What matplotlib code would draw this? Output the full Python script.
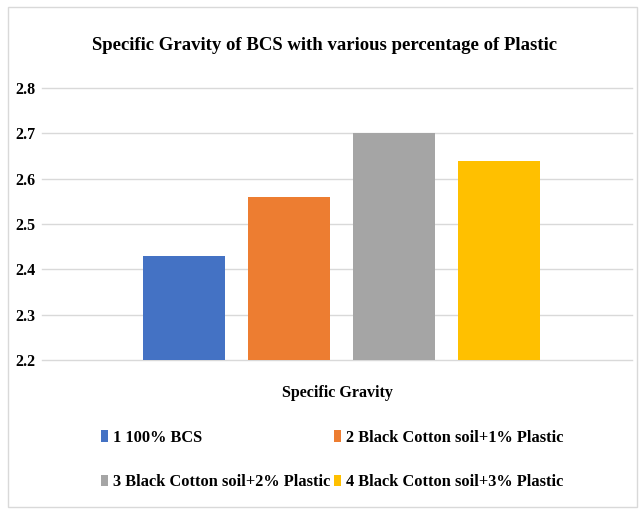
import matplotlib
matplotlib.use("Agg")
import matplotlib.pyplot as plt
from matplotlib.patches import Rectangle

categories = ["Specific Gravity"]
series_names = [
    "1 100% BCS",
    "2 Black Cotton soil+1% Plastic",
    "3 Black Cotton soil+2% Plastic",
    "4 Black Cotton soil+3% Plastic",
]
values = [2.43, 2.56, 2.70, 2.64]
colors = ["#4472C4", "#ED7D31", "#A5A5A5", "#FFC000"]
yticks = [2.2, 2.3, 2.4, 2.5, 2.6, 2.7, 2.8]

plt.rcParams["font.family"] = ["Liberation Serif", "DejaVu Serif"]
plt.rcParams["font.weight"] = "bold"

W, H = 642, 512
fig = plt.figure(figsize=(W / 100, H / 100), dpi=100)
fig.patch.set_facecolor("white")

# chart frame
fig.add_artist(Rectangle((8 / W, 1 - 507 / H), 629 / W, 500 / H,
                         transform=fig.transFigure, fill=False,
                         edgecolor="#D9D9D9", linewidth=1.0))

ax = fig.add_axes([42 / W, 1 - 360 / H, 590 / W, 272 / H])

bar_w = 0.139
step = 0.178
handles = []
for i, (name, v, c) in enumerate(zip(series_names, values, colors)):
    b = ax.bar(0 + (i - 1.5) * step, v - 2.2, bottom=2.2, width=bar_w,
               color=c, label=name, zorder=3)
    handles.append(b)

ax.set_xlim(-0.5 - 0.008, 0.5 - 0.008)
ax.set_ylim(2.2, 2.8)
ax.set_yticks(yticks)
ax.set_yticklabels([f"{t:.1f}" for t in yticks], fontsize=11.5, fontweight="bold")
ax.tick_params(axis="y", length=0, pad=5)
ax.set_xticks([0])
ax.set_xticklabels([""])
ax.tick_params(axis="x", length=0)
ax.grid(axis="y", color="#D9D9D9", linewidth=1.0, zorder=0)
for gl in ax.get_ygridlines():
    gl.set_clip_on(False)
for s in ax.spines.values():
    s.set_visible(False)

fig.text(337 / W, 1 - 393 / H, categories[0], ha="center", va="center",
         fontsize=11.5, fontweight="bold")
fig.text(325 / W, 1 - 45 / H,
         "Specific Gravity of BCS with various percentage of Plastic",
         ha="center", va="center", fontsize=13.5, fontweight="bold")

# legend entries laid out row by row (1 2 / 3 4)
order = [0, 2, 1, 3]
leg = fig.legend([handles[k] for k in order], [series_names[k] for k in order],
                 loc="center", bbox_to_anchor=(332 / W, 1 - 460 / H),
                 ncol=2, frameon=False, fontsize=11.8,
                 handlelength=0.45, handleheight=0.7, handletextpad=0.3,
                 columnspacing=0.2, labelspacing=1.75)

fig.savefig("out.png", dpi=100, facecolor="white")
